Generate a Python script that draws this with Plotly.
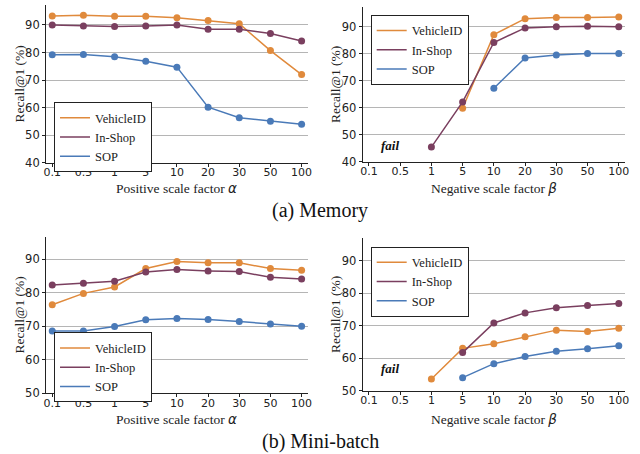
import plotly.graph_objects as go

categories = ["0.1", "0.5", "1", "5", "10", "20", "30", "50", "100"]
series_names = ["VehicleID", "In-Shop", "SOP"]

# (a) Memory - positive scale factor alpha
mem_pos_vehicle = [93.2, 93.5, 93.1, 93.1, 92.6, 91.6, 90.4, 80.7, 72.0]
mem_pos_inshop = [90.0, 89.6, 89.4, 89.6, 90.0, 88.4, 88.4, 86.9, 84.2]
mem_pos_sop = [79.2, 79.3, 78.5, 76.8, 74.7, 60.2, 56.4, 55.1, 54.0]

# (a) Memory - negative scale factor beta
mem_neg_vehicle = [None, None, None, 59.8, 87.0, 92.9, 93.3, 93.3, 93.5]
mem_neg_inshop = [None, None, 45.4, 62.1, 84.1, 89.5, 89.9, 90.1, 89.9]
mem_neg_sop = [None, None, None, None, 67.2, 78.4, 79.5, 80.0, 80.0]

# (b) Mini-batch - positive scale factor alpha
mb_pos_vehicle = [76.4, 79.8, 81.7, 87.2, 89.3, 88.9, 88.9, 87.2, 86.7]
mb_pos_inshop = [82.3, 82.8, 83.4, 86.2, 86.9, 86.5, 86.3, 84.6, 84.1]
mb_pos_sop = [68.6, 68.6, 69.9, 71.9, 72.3, 72.0, 71.4, 70.7, 70.0]

# (b) Mini-batch - negative scale factor beta
mb_neg_vehicle = [None, None, 53.7, 63.1, 64.5, 66.7, 68.7, 68.3, 69.3]
mb_neg_inshop = [None, None, None, 61.8, 70.9, 74.0, 75.6, 76.3, 76.9]
mb_neg_sop = [None, None, None, 54.1, 58.4, 60.6, 62.2, 63.0, 63.9]

colors = ["#e08a3c", "#7a3f5f", "#4a7ab8"]

W, H = 640, 454

panels = [
    dict(data=[mem_pos_vehicle, mem_pos_inshop, mem_pos_sop], xd=[0.0719, 0.481], yd=[0.641, 0.989],
         yr=[40, 97.2], yt=[40, 50, 60, 70, 80, 90], xt="Positive scale factor ", sym="α",
         leg=(0.0844, 0.775), fail=None, ytx=19.5, xty=188),
    dict(data=[mem_neg_vehicle, mem_neg_inshop, mem_neg_sop], xd=[0.5667, 0.9766], yd=[0.6438, 0.985],
         yr=[40, 97.3], yt=[40, 50, 60, 70, 80, 90], xt="Negative scale factor ", sym="β",
         leg=(0.5792, 0.967), fail=45.9, ytx=335.7, xty=188),
    dict(data=[mb_pos_vehicle, mb_pos_inshop, mb_pos_sop], xd=[0.0719, 0.481], yd=[0.1337, 0.4786],
         yr=[50, 96.7], yt=[50, 60, 70, 80, 90], xt="Positive scale factor ", sym="α",
         leg=(0.0844, 0.268), fail=None, ytx=19.5, xty=419),
    dict(data=[mb_neg_vehicle, mb_neg_inshop, mb_neg_sop], xd=[0.5667, 0.9766], yd=[0.1388, 0.4764],
         yr=[50, 97.1], yt=[50, 60, 70, 80, 90], xt="Negative scale factor ", sym="β",
         leg=(0.5792, 0.457), fail=56.8, ytx=335.7, xty=419),
]

fig = go.Figure()
layout = dict(
    width=W, height=H, margin=dict(l=0, r=0, t=0, b=0, autoexpand=False),
    paper_bgcolor="white", plot_bgcolor="white", showlegend=True,
    annotations=[],
)

serif = "Liberation Serif"
sans = "DejaVu Sans"
title_size = 13.5

for i, p in enumerate(panels):
    n = i + 1
    xa = "x" if n == 1 else f"x{n}"
    ya = "y" if n == 1 else f"y{n}"
    lg = "legend" if n == 1 else f"legend{n}"
    for s, vals in enumerate(p["data"]):
        fig.add_trace(go.Scatter(
            x=categories, y=vals, mode="lines+markers", xaxis=xa, yaxis=ya,
            line=dict(color=colors[s], width=1.5), marker=dict(color=colors[s], size=7),
            showlegend=False, connectgaps=False, hoverinfo="skip"))
    for s, name in enumerate(series_names):
        fig.add_trace(go.Scatter(
            x=[None], y=[None], mode="lines", name=name, xaxis=xa, yaxis=ya,
            line=dict(color=colors[s], width=1.5), legend=lg, showlegend=True))
    xkey = "xaxis" if n == 1 else f"xaxis{n}"
    ykey = "yaxis" if n == 1 else f"yaxis{n}"
    layout[xkey] = dict(
        domain=p["xd"], anchor=ya, type="category", categoryorder="array", categoryarray=categories,
        range=[-0.2, 8.2], showgrid=False, showline=True, linecolor="#222", linewidth=1,
        ticks="outside", ticklen=3, tickcolor="#222", tickfont=dict(family=sans, size=11, color="#222"),
        ticklabelstandoff=-4,
        zeroline=False, fixedrange=True, automargin=False)
    layout[ykey] = dict(
        domain=p["yd"], anchor=xa, range=p["yr"], tickvals=p["yt"], showgrid=True,
        gridcolor="#b5b5b5", gridwidth=1, showline=True, linecolor="#222", linewidth=1,
        ticks="outside", ticklen=3, tickcolor="#222", tickfont=dict(family=sans, size=11.5, color="#222"),
        zeroline=False, fixedrange=True, automargin=False)
    layout[lg] = dict(
        x=p["leg"][0], y=p["leg"][1], xanchor="left", yanchor="top", xref="paper", yref="paper",
        bgcolor="white", bordercolor="#222", borderwidth=1, font=dict(family=serif, size=12.5, color="#222"),
        tracegroupgap=0, itemwidth=30)
    # axis titles
    xc = (p["xd"][0] + p["xd"][1]) / 2
    yc = (p["yd"][0] + p["yd"][1]) / 2
    layout["annotations"].append(dict(
        x=xc, y=1 - p["xty"] / H, xref="paper", yref="paper", xanchor="center", yanchor="middle",
        text=p["xt"] + '<span style="font-family:DejaVu Sans;font-style:italic">' + p["sym"] + "</span>",
        showarrow=False, font=dict(family=serif, size=title_size, color="#222")))
    layout["annotations"].append(dict(
        x=p["ytx"] / W, y=yc, xref="paper", yref="paper", xanchor="center", yanchor="middle",
        text="Recall@1 (%)", textangle=-90,
        showarrow=False, font=dict(family=serif, size=title_size, color="#222")))
    if p["fail"] is not None:
        layout["annotations"].append(dict(
            x=0.67, y=p["fail"], xref=xa, yref=ya, text="<b><i>fail</i></b>", showarrow=False,
            xanchor="center", yanchor="middle",
            font=dict(family=serif, size=13, color="#111")))

layout["annotations"].append(dict(x=0.5, y=1 - 210 / H, xref="paper", yref="paper", text="(a) Memory",
                                  xanchor="center", yanchor="middle",
                                  showarrow=False, font=dict(family=serif, size=20, color="#111")))
layout["annotations"].append(dict(x=0.5, y=1 - 441 / H, xref="paper", yref="paper", text="(b) Mini-batch",
                                  xanchor="center", yanchor="middle",
                                  showarrow=False, font=dict(family=serif, size=20, color="#111")))

fig.update_layout(**layout)
fig.write_html("out.html", config={"displayModeBar": False},
               post_script="document.body.style.margin='0';document.body.style.padding='0';")
